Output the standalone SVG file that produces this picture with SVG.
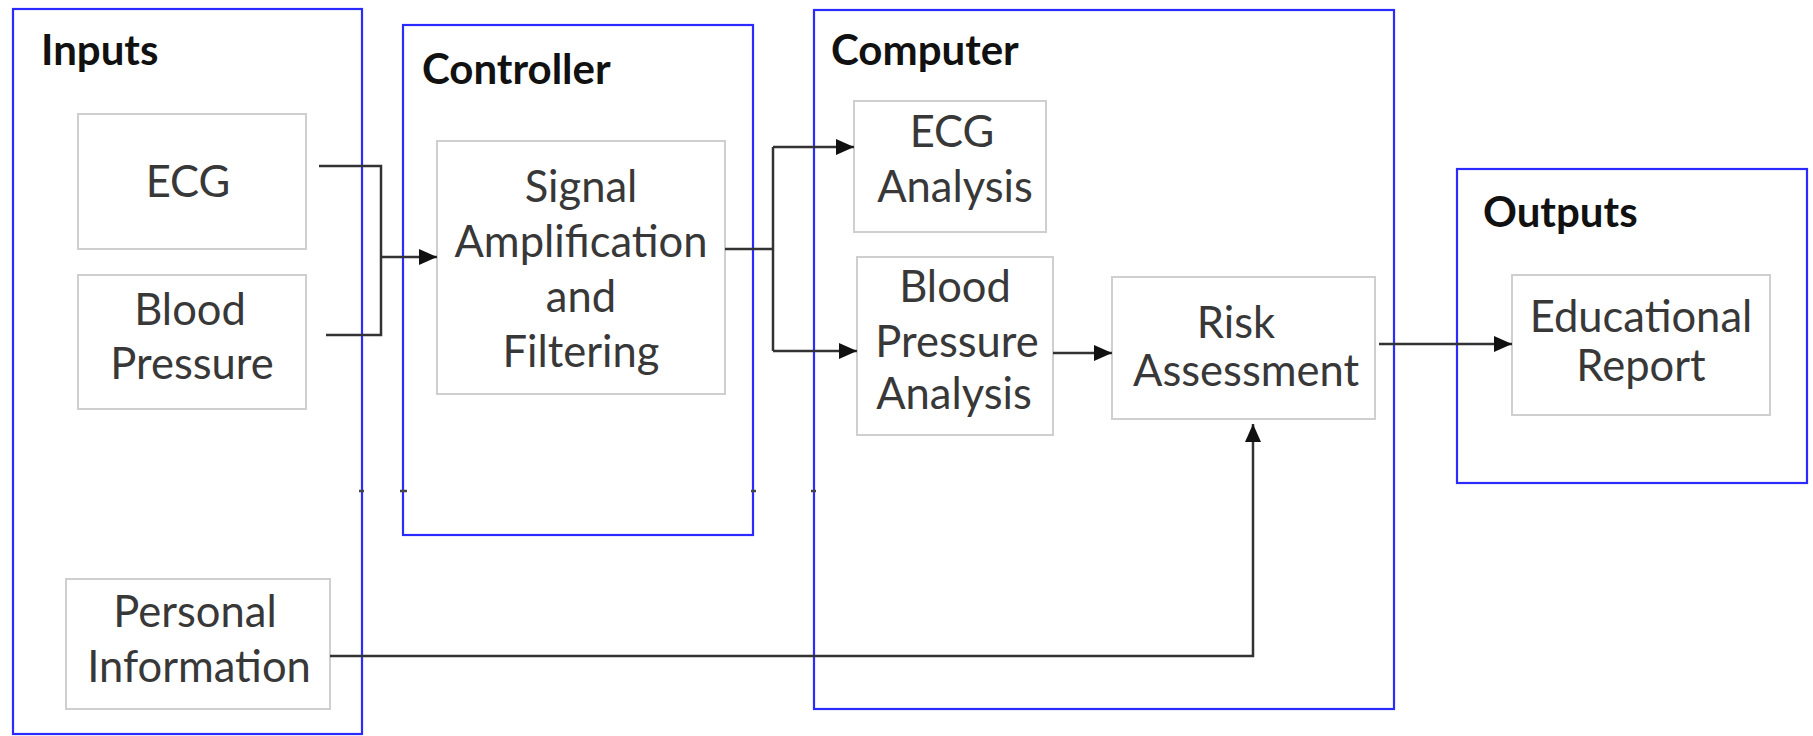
<svg xmlns="http://www.w3.org/2000/svg" width="1813" height="736" viewBox="0 0 1813 736">
<style>
.group{fill:none;stroke:#2b2bff;stroke-width:2.2}
.box{fill:#fff;stroke:#cfcfcf;stroke-width:2}
.title{font-family:Lato,"Liberation Sans",sans-serif;font-weight:bold;font-size:42px;fill:#111}
.lbl{font-family:Lato,"Liberation Sans",sans-serif;font-size:43.5px;fill:#383838;text-anchor:middle}
.wire{fill:none;stroke:#333;stroke-width:2.5}
.tick{stroke:#444;stroke-width:2.5}
</style>
<defs>
<marker id="arr" viewBox="0 0 18 16" refX="18" refY="8" markerWidth="18" markerHeight="16" markerUnits="userSpaceOnUse" orient="auto">
<path d="M0,0 L18,8 L0,16 Z" fill="#111"/>
</marker>
</defs>
<rect width="1813" height="736" fill="#fff"/>

<g id="inputs">
<rect class="group" x="13" y="9" width="349" height="725"/>
<text class="title" x="41" y="65">Inputs</text>
</g>
<g id="controller">
<rect class="group" x="403" y="25" width="350" height="510"/>
<text class="title" x="422" y="84">Controller</text>
</g>
<g id="computer">
<rect class="group" x="814" y="10" width="580" height="699"/>
<text class="title" x="831" y="65">Computer</text>
</g>
<g id="outputs">
<rect class="group" x="1457" y="169" width="350" height="314"/>
<text class="title" x="1483" y="227">Outputs</text>
</g>

<g id="ecg">
<rect class="box" x="78" y="114" width="228" height="135"/>
<text class="lbl" x="188" y="197">ECG</text>
</g>
<g id="blood-pressure">
<rect class="box" x="78" y="275" width="228" height="134"/>
<text class="lbl" x="190" y="325">Blood</text>
<text class="lbl" x="192" y="379">Pressure</text>
</g>
<g id="personal-information">
<rect class="box" x="66" y="579" width="264" height="130"/>
<text class="lbl" x="195" y="627">Personal</text>
<text class="lbl" x="199" y="682">Information</text>
</g>
<g id="signal">
<rect class="box" x="437" y="141" width="288" height="253"/>
<text class="lbl" x="581" y="202">Signal</text>
<text class="lbl" x="581" y="257">Amplification</text>
<text class="lbl" x="581" y="312">and</text>
<text class="lbl" x="581" y="367">Filtering</text>
</g>
<g id="ecg-analysis">
<rect class="box" x="854" y="101" width="192" height="131"/>
<text class="lbl" x="952" y="147">ECG</text>
<text class="lbl" x="955" y="202">Analysis</text>
</g>
<g id="bp-analysis">
<rect class="box" x="857" y="257" width="196" height="178"/>
<text class="lbl" x="955" y="302">Blood</text>
<text class="lbl" x="957" y="357">Pressure</text>
<text class="lbl" x="954" y="409">Analysis</text>
</g>
<g id="risk-assessment">
<rect class="box" x="1112" y="277" width="263" height="142"/>
<text class="lbl" x="1236" y="338">Risk</text>
<text class="lbl" x="1246" y="386">Assessment</text>
</g>
<g id="educational-report">
<rect class="box" x="1512" y="275" width="258" height="140"/>
<text class="lbl" x="1641" y="332">Educational</text>
<text class="lbl" x="1641" y="381">Report</text>
</g>

<g id="connectors">
<path class="wire" d="M319,166 H381 V335 H326"/>
<path class="wire" d="M381,257 H437" marker-end="url(#arr)"/>
<path class="wire" d="M725,249 H773"/>
<path class="wire" d="M773,147 V351"/>
<path class="wire" d="M773,147 H854" marker-end="url(#arr)"/>
<path class="wire" d="M773,351 H857" marker-end="url(#arr)"/>
<path class="wire" d="M1053,353 H1112" marker-end="url(#arr)"/>
<path class="wire" d="M1379,344 H1512" marker-end="url(#arr)"/>
<path class="wire" d="M330,656 H1253 V424" marker-end="url(#arr)"/>
</g>

<g id="ticks">
<path class="tick" d="M359,491 h5 M400,491 h7 M751,491 h5 M811,491 h5"/>
</g>
</svg>
